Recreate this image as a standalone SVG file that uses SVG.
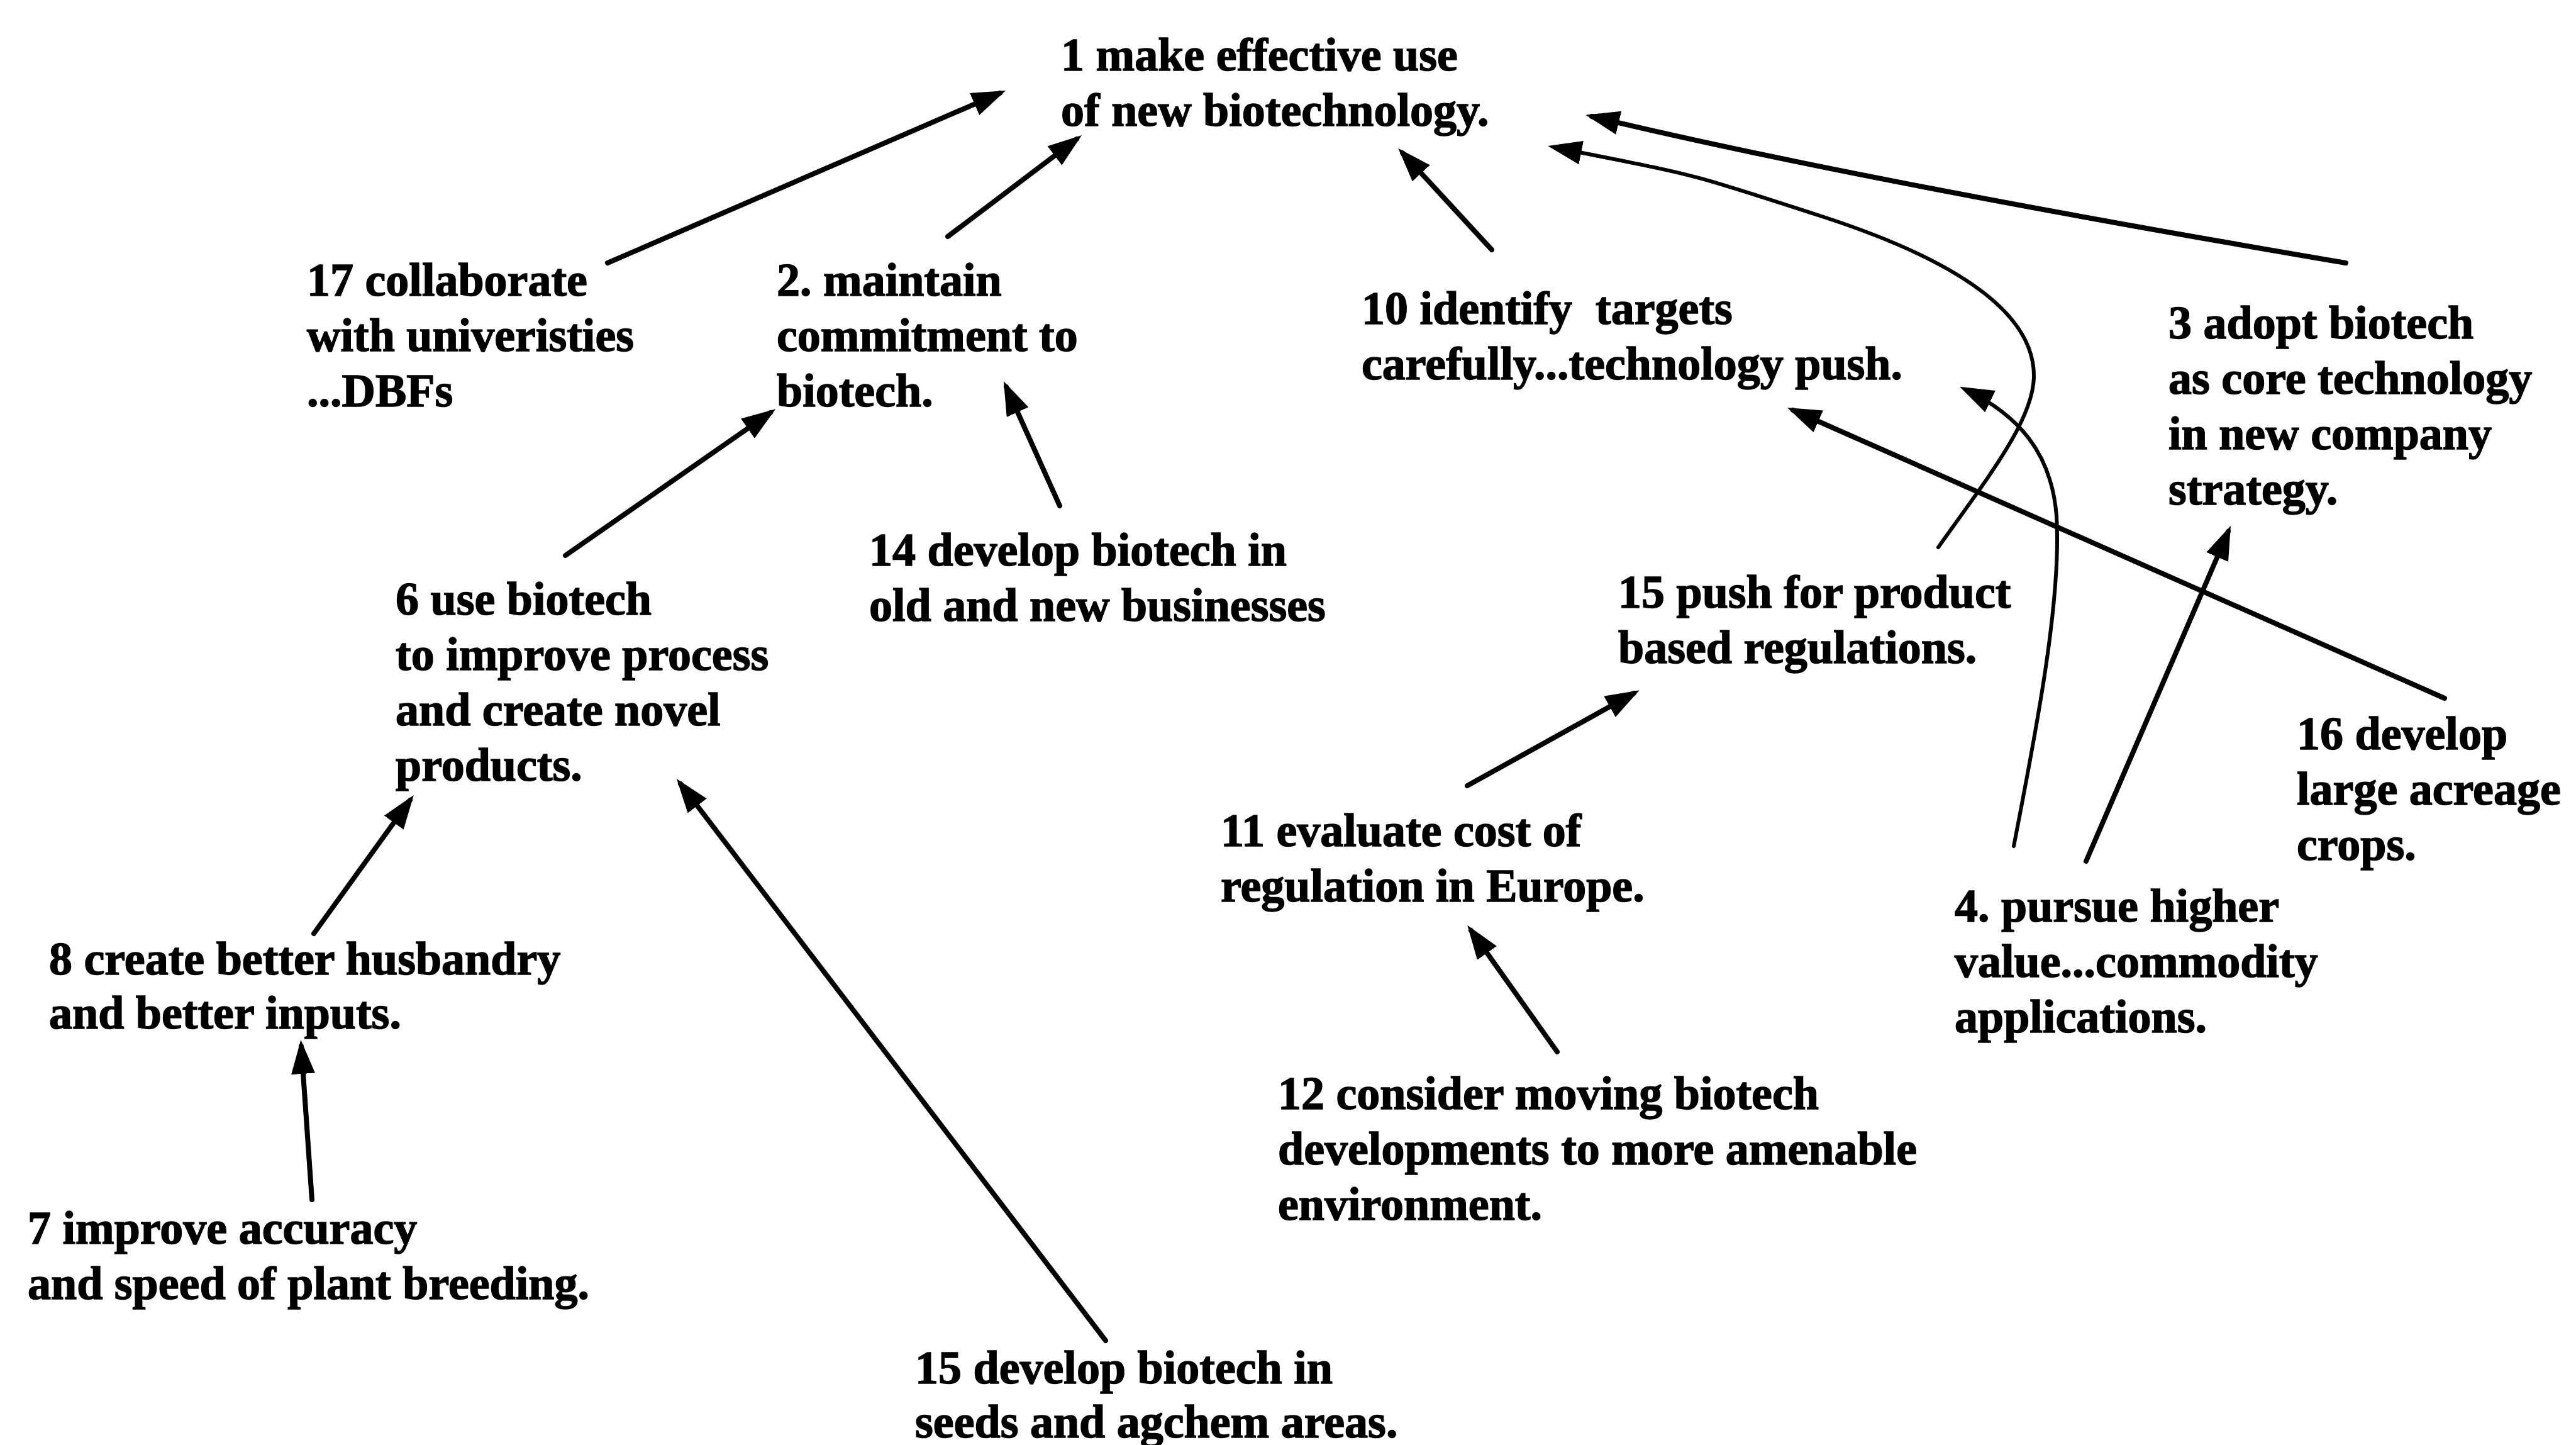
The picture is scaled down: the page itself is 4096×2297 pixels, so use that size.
<svg xmlns="http://www.w3.org/2000/svg" width="4096" height="2297" viewBox="0 0 4096 2297">
  <style>
    text { font-family: "Liberation Serif", "DejaVu Serif", serif; font-weight: bold; font-size: 74px; fill: #000; stroke: #000; stroke-width: 1.5px; }
    .edge { fill: none; stroke: #000; stroke-width: 8; stroke-linecap: round; marker-end: url(#head); }
    .curve { stroke-width: 6; }
  </style>
  <defs>
    <marker id="head" markerUnits="userSpaceOnUse" markerWidth="56" markerHeight="40" viewBox="0 0 56 40" refX="44" refY="19" orient="auto">
      <path d="M0,0 L54,19 L0,38 Z" fill="#000"/>
    </marker>
  </defs>
  <rect width="4096" height="2297" fill="#fff"/>

  <!-- connectors -->
  <g id="connectors">
    <path class="edge" d="M966,418 L1590,148"/>
    <path class="edge" d="M1507,376 L1712,221"/>
    <path class="edge" d="M2372,397 L2230,243"/>
    <path class="edge" d="M3730,418 Q2941,284 2531,185"/>
    <path class="edge curve" d="M3082,870 C3160,760 3232,670 3234,600 C3236,505 3130,420 2900,345 S2700,280 2471,234"/>
    <path class="edge curve" d="M3202,1345 C3240,1150 3278,950 3270,820 C3262,720 3210,660 3125,619"/>
    <path class="edge" d="M3887,1110 L2851,652"/>
    <path class="edge" d="M3317,1369 L3543,845"/>
    <path class="edge" d="M899,883 L1225,656"/>
    <path class="edge" d="M1685,804 L1600,615"/>
    <path class="edge" d="M499,1484 L652,1272"/>
    <path class="edge" d="M496,1907 L479,1663"/>
    <path class="edge" d="M1758,2131 L1082,1246"/>
    <path class="edge" d="M2333,1249 L2598,1102"/>
    <path class="edge" d="M2476,1672 L2339,1479"/>
  </g>

  <g id="n1">
    <text x="1687" y="112">1 make effective use</text>
    <text x="1687" y="200">of new biotechnology.</text>
  </g>
  <g id="n17">
    <text x="488" y="470">17 collaborate</text>
    <text x="488" y="558">with univeristies</text>
    <text x="488" y="646">...DBFs</text>
  </g>
  <g id="n2">
    <text x="1235" y="470">2. maintain</text>
    <text x="1235" y="558">commitment to</text>
    <text x="1235" y="646">biotech.</text>
  </g>
  <g id="n10">
    <text x="2165" y="515" xml:space="preserve">10 identify  targets</text>
    <text x="2165" y="603">carefully...technology push.</text>
  </g>
  <g id="n3">
    <text x="3448" y="538">3 adopt biotech</text>
    <text x="3448" y="626">as core technology</text>
    <text x="3448" y="714">in new company</text>
    <text x="3448" y="802">strategy.</text>
  </g>
  <g id="n14">
    <text x="1382" y="899">14 develop biotech in</text>
    <text x="1382" y="987">old and new businesses</text>
  </g>
  <g id="n6">
    <text x="629" y="977">6 use biotech</text>
    <text x="629" y="1065">to improve process</text>
    <text x="629" y="1153">and create novel</text>
    <text x="629" y="1241">products.</text>
  </g>
  <g id="n15a">
    <text x="2573" y="966">15 push for product</text>
    <text x="2573" y="1054">based regulations.</text>
  </g>
  <g id="n16">
    <text x="3652" y="1191">16 develop</text>
    <text x="3652" y="1279">large acreage</text>
    <text x="3652" y="1367">crops.</text>
  </g>
  <g id="n11">
    <text x="1941" y="1345">11 evaluate cost of</text>
    <text x="1941" y="1433">regulation in Europe.</text>
  </g>
  <g id="n4">
    <text x="3108" y="1465">4. pursue higher</text>
    <text x="3108" y="1553">value...commodity</text>
    <text x="3108" y="1641">applications.</text>
  </g>
  <g id="n8">
    <text x="78" y="1549">8 create better husbandry</text>
    <text x="78" y="1635">and better inputs.</text>
  </g>
  <g id="n12">
    <text x="2032" y="1763">12 consider moving biotech</text>
    <text x="2032" y="1851">developments to more amenable</text>
    <text x="2032" y="1939">environment.</text>
  </g>
  <g id="n7">
    <text x="44" y="1977">7 improve accuracy</text>
    <text x="44" y="2065">and speed of plant breeding.</text>
  </g>
  <g id="n15b">
    <text x="1455" y="2199">15 develop biotech in</text>
    <text x="1455" y="2285">seeds and agchem areas.</text>
  </g>
</svg>
